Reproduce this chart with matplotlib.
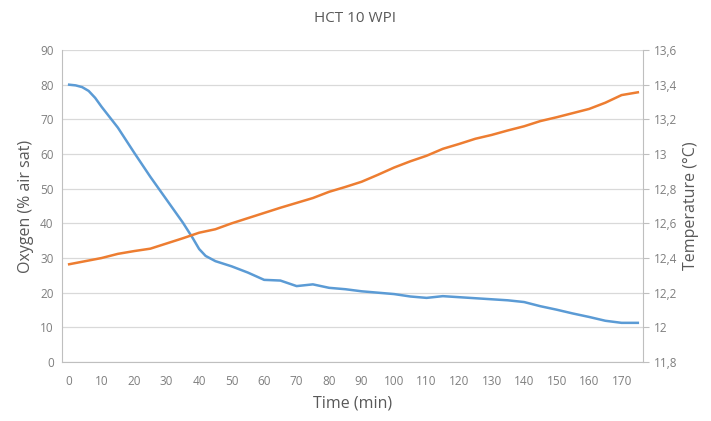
import matplotlib
matplotlib.use("Agg")
import matplotlib.pyplot as plt
from matplotlib.ticker import FuncFormatter, MultipleLocator

plt.rcParams['font.family'] = ['Open Sans', 'DejaVu Sans']

# Dissolved oxygen readings
oxygen_time = [0, 2, 4, 6, 8, 10, 15, 20, 25, 30, 35, 38, 40, 42, 45, 50, 55, 60,
               65, 70, 75, 80, 85, 90, 95, 100, 105, 110, 115, 120, 125, 130, 135,
               140, 145, 150, 155, 160, 165, 170, 175]
oxygen = [80.0, 79.8, 79.3, 78.2, 76.2, 73.6, 67.6, 60.4, 53.4, 46.8, 40.2, 35.8,
          32.6, 30.6, 29.1, 27.6, 25.8, 23.7, 23.5, 21.9, 22.4, 21.4, 21.0, 20.4,
          20.0, 19.6, 18.9, 18.5, 19.0, 18.7, 18.4, 18.1, 17.8, 17.3, 16.1, 15.1,
          14.0, 13.0, 11.9, 11.3, 11.3]

# Water temperature readings
temp_time = [0, 5, 10, 15, 20, 25, 30, 35, 40, 45, 50, 55, 60, 65, 70, 75, 80,
             85, 90, 95, 100, 105, 110, 115, 120, 125, 130, 135, 140, 145, 150,
             155, 160, 165, 170, 175]
temperature = [12.364, 12.382, 12.400, 12.424, 12.440, 12.454, 12.484, 12.514,
               12.546, 12.566, 12.600, 12.630, 12.660, 12.690, 12.718, 12.746,
               12.782, 12.810, 12.840, 12.880, 12.922, 12.958, 12.990, 13.030,
               13.058, 13.088, 13.110, 13.136, 13.160, 13.190, 13.212, 13.236,
               13.260, 13.296, 13.340, 13.356]

title = "HCT 10 WPI"
x_ticks = list(range(0, 171, 10))

grey = '#595959'
tick_grey = '#7f7f7f'
spine_grey = '#bfbfbf'
grid_grey = '#d9d9d9'

fig = plt.figure(figsize=(7.11, 4.21), dpi=100)
ax = fig.add_axes([0.0872, 0.1401, 0.9044 - 0.0872, 0.8812 - 0.1401])
ax2 = ax.twinx()

ax.plot(oxygen_time, oxygen, color='#5B9BD5', lw=1.8, zorder=3)
ax2.plot(temp_time, temperature, color='#ED7D31', lw=1.8, zorder=3)

ax.set_xlim(-2.2, 176.6)
ax.set_ylim(0, 90)
ax2.set_ylim(11.8, 13.6)
ax.yaxis.set_major_locator(MultipleLocator(10))
ax2.yaxis.set_major_locator(MultipleLocator(0.2))
ax.set_xticks(x_ticks)


def comma_fmt(v, pos):
    s = f"{v:.1f}"
    if s.endswith(".0"):
        s = s[:-2]
    return s.replace('.', ',')


ax2.yaxis.set_major_formatter(FuncFormatter(comma_fmt))

ax.grid(axis='y', color=grid_grey, lw=0.9)
ax.set_axisbelow(True)

for a in (ax, ax2):
    a.spines['top'].set_visible(False)
ax.spines['right'].set_visible(False)
ax2.spines['left'].set_visible(False)
ax2.spines['bottom'].set_visible(False)
ax.spines['left'].set_color(spine_grey)
ax.spines['bottom'].set_color(spine_grey)
ax2.spines['right'].set_color(spine_grey)

ax.tick_params(axis='both', length=0, labelsize=8.5, colors=tick_grey, pad=6)
ax.tick_params(axis='x', pad=9)
ax2.tick_params(axis='y', length=4, color=spine_grey, labelsize=8.5,
                labelcolor=tick_grey, pad=4)

ax.set_xlabel("Time (min)", fontsize=11.5, color=grey, labelpad=6)
ax.set_ylabel("Oxygen (% air sat)", fontsize=11.5, color=grey, labelpad=4)
ax2.set_ylabel("Temperature (°C)", fontsize=11.5, color=grey, labelpad=4)
fig.text(0.5, 0.955, title, ha='center', va='center', fontsize=11, color=grey)

fig.savefig("out.png", dpi=100)
